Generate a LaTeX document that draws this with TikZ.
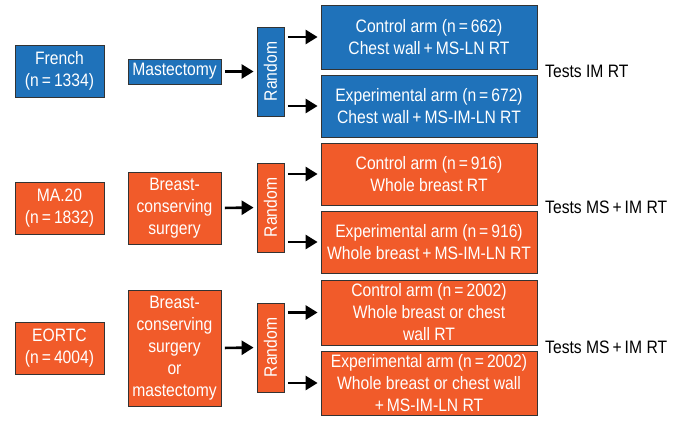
\documentclass[tikz,border=0pt]{standalone}
\usepackage{fontspec}
\setmainfont[FakeStretch=0.87]{Liberation Sans}
\usetikzlibrary{arrows.meta}
\definecolor{trialblue}{RGB}{31,114,186}
\definecolor{trialorange}{RGB}{241,91,42}

\begin{document}
\begin{tikzpicture}[x=1pt,y=-1pt,
box/.style={draw=black!80,line width=0.8pt,text=white,align=center,inner sep=0pt,font=\fontsize{18}{22}\selectfont},
bluebox/.style={box,fill=trialblue},
orangebox/.style={box,fill=trialorange},
randbox/.style={minimum width=89,minimum height=27,rotate=90},
armbox/.style={minimum width=216},
arr/.style={-{Triangle[length=12pt,width=14pt]},line width=2.6pt,shorten <=3.5pt,shorten >=3pt},
tests/.style={anchor=west,inner sep=0pt,font=\fontsize{18}{22}\selectfont}]
\useasboundingbox (0,0) rectangle (676,421);

\node (french) at (59.5,71) [bluebox,minimum width=89,minimum height=52] {French\\(n\,=\,1334)};
\node (mast) at (174.5,71.5) [bluebox,minimum width=93,minimum height=25] {Mastectomy};
\node (rand1) at (270.5,71.5) [bluebox,randbox] {Random};
\node (ctl1) at (429,37) [bluebox,armbox,minimum height=64] {Control arm (n\,=\,662)\\Chest wall\,+\,MS-LN RT};
\node (exp1) at (429,106) [bluebox,armbox,minimum height=62] {Experimental arm (n\,=\,672)\\Chest wall\,+\,MS-IM-LN RT};
\node (tests1) at (545,71) [tests] {Tests IM RT};

\node (ma20) at (59.5,208) [orangebox,minimum width=89,minimum height=52] {MA.20\\(n\,=\,1832)};
\node (bcs) at (174.5,208) [orangebox,minimum width=93,minimum height=72] {Breast-\\conserving\\surgery};
\node (rand2) at (270.5,207.5) [orangebox,randbox] {Random};
\node (ctl2) at (429,174) [orangebox,armbox,minimum height=62] {Control arm (n\,=\,916)\\Whole breast RT};
\node (exp2) at (429,242) [orangebox,armbox,minimum height=62] {Experimental arm (n\,=\,916)\\Whole breast\,+\,MS-IM-LN RT};
\node (tests2) at (545,207) [tests] {Tests MS\,+\,IM RT};

\node (eortc) at (59.5,348) [orangebox,minimum width=89,minimum height=52] {EORTC\\(n\,=\,4004)};
\node (bcsm) at (174.5,348) [orangebox,minimum width=93,minimum height=116] {Breast-\\conserving\\surgery\\or\\mastectomy};
\node (rand3) at (270.5,347.5) [orangebox,randbox] {Random};
\node (ctl3) at (429,312.5) [orangebox,armbox,minimum height=65] {Control arm (n\,=\,2002)\\Whole breast or chest\\wall RT};
\node (exp3) at (429,383) [orangebox,armbox,minimum height=64] {Experimental arm (n\,=\,2002)\\Whole breast or chest wall\\+\,MS-IM-LN RT};
\node (tests3) at (545,347) [tests] {Tests MS\,+\,IM RT};

\draw[arr] (mast.east) -- (rand1.north);
\draw[arr] (rand1.south |- ctl1.west) -- (ctl1.west);
\draw[arr] (rand1.south |- exp1.west) -- (exp1.west);

\draw[arr] (bcs.east) -- (rand2.north);
\draw[arr] (rand2.south |- ctl2.west) -- (ctl2.west);
\draw[arr] (rand2.south |- exp2.west) -- (exp2.west);

\draw[arr] (bcsm.east) -- (rand3.north);
\draw[arr] (rand3.south |- ctl3.west) -- (ctl3.west);
\draw[arr] (rand3.south |- exp3.west) -- (exp3.west);

\end{tikzpicture}
\end{document}
